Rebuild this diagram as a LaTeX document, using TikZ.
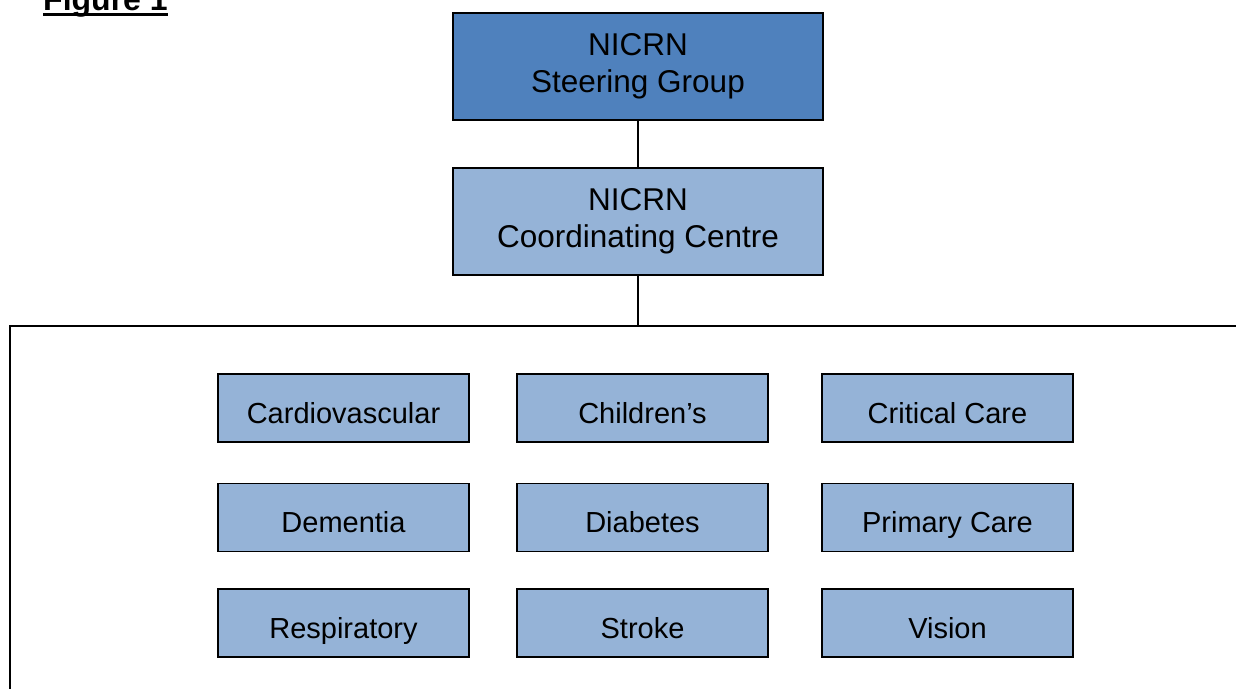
\documentclass[tikz,border=0pt]{standalone}
\usepackage{fontspec}
\setmainfont{Liberation Sans}
\definecolor{darkblue}{HTML}{4F81BD}
\definecolor{lightblue}{HTML}{95B3D7}
\begin{document}
\begin{tikzpicture}[x=1pt,y=-1pt,
  topbox/.style={draw=black,line width=1.6pt,minimum width=370pt,minimum height=107pt,inner sep=0pt,align=center,font=\fontsize{31.5}{37}\selectfont},
  gridbox/.style={draw=black,line width=1.5pt,fill=lightblue,minimum width=251pt,minimum height=68pt,inner sep=0pt,text height=30pt,text depth=0pt,font=\fontsize{29}{34}\selectfont},
  conn/.style={draw=black,line width=1.3pt}]
\useasboundingbox (0,0) rectangle (1236,688);
\clip (0,0) rectangle (1236,688);
\fill[white] (0,0) rectangle (1236,688);
% title
\node[anchor=base west,inner sep=0pt,font=\fontsize{32}{38}\selectfont\bfseries] (fig) at (43,10) {Figure 1};
\draw[line width=3pt] ([yshift=-4.5pt]fig.base west) -- ([yshift=-4.5pt]fig.base east);
% top boxes
\node[topbox,fill=darkblue] (steer) at (638,66.5) {NICRN\\Steering Group};
\node[topbox,fill=lightblue] (coord) at (638,221.5) {NICRN\\Coordinating Centre};
\coordinate (frametop) at (638,326);
\draw[conn] (steer) -- (coord);
\draw[conn] (coord) -- (frametop);
% frame
\draw[line width=2.5pt] (10,700) -- (10,326) -- (1250,326);
% grid
\node[gridbox] (cardio) at (343.5,408) {Cardiovascular};
\node[gridbox] (child) at (642.5,408) {Children’s};
\node[gridbox] (crit) at (947.5,408) {Critical Care};
\node[gridbox] (dem) at (343.5,517.5) {Dementia};
\node[gridbox] (diab) at (642.5,517.5) {Diabetes};
\node[gridbox] (prim) at (947.5,517.5) {Primary Care};
\node[gridbox] (resp) at (343.5,623) {Respiratory};
\node[gridbox] (stroke) at (642.5,623) {Stroke};
\node[gridbox] (vision) at (947.5,623) {Vision};
\end{tikzpicture}
\end{document}
